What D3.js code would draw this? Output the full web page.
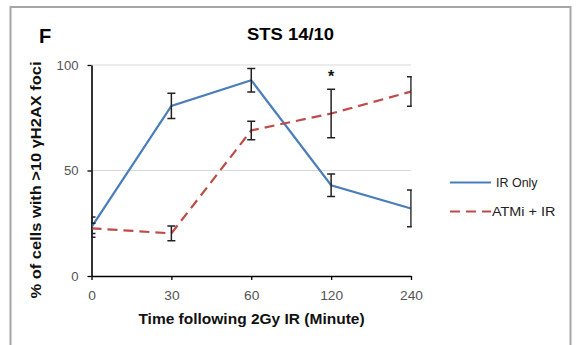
<!DOCTYPE html>
<html>
<head>
<meta charset="utf-8">
<script src="https://cdn.jsdelivr.net/npm/d3@7"></script>
<style>
  html, body { margin: 0; padding: 0; background: #fff; }
  svg { display: block; font-family: "Liberation Sans", Arial, sans-serif; }
</style>
</head>
<body>
<svg id="chart" width="577" height="345"></svg>
<script>
// Time points (minutes after 2 Gy IR), shown as evenly spaced categories
const timePoints = ["0", "30", "60", "120", "240"];

// % of cells with >10 γH2AX foci
const irOnly      = [23.2, 80.6, 92.8, 43.0, 32.0];
const irOnlyErr   = [4.8, 6.0, 5.6, 5.3, 8.7];
const atmiIr      = [22.6, 20.2, 69.0, 77.0, 87.4];
const atmiIrErr   = [2.4, 3.5, 4.4, 11.5, 7.0];

const yTicks = [0, 50, 100];
const seriesNames = ["IR Only", "ATMi + IR"];
const significantAt = ["120"];

const svg = d3.select("#chart");
const W = 577, H = 345;

const x = d3.scalePoint().domain(timePoints).range([91.5, 411]).padding(0);
const y = d3.scaleLinear().domain([0, 100]).range([276, 65]);

const blue = "#4a7ebb";
const red = "#be4b48";

// Stretch text horizontally (along its own baseline) by factor k
function widen(sel, k) {
  sel.each(function () {
    const len = this.getComputedTextLength();
    d3.select(this).attr("textLength", len * k).attr("lengthAdjust", "spacingAndGlyphs");
  });
}

// Panel frame
svg.append("rect")
  .attr("x", 10.5).attr("y", 7).attr("width", 560).attr("height", 350)
  .attr("fill", "none").attr("stroke", "#a6a6a6").attr("stroke-width", 2);

// Panel letter and title
svg.append("text").attr("x", 39).attr("y", 43)
  .attr("font-size", 20).attr("font-weight", "bold").attr("fill", "#000").text("F");
svg.append("text").attr("x", 290.5).attr("y", 39.5).attr("text-anchor", "middle")
  .attr("font-size", 16).attr("font-weight", "bold").attr("fill", "#000")
  .text("STS 14/10").call(widen, 1.15);

// Gridlines
svg.append("g").selectAll("line").data(yTicks.filter(d => d > 0)).join("line")
  .attr("x1", x.range()[0]).attr("x2", x.range()[1])
  .attr("y1", d => y(d)).attr("y2", d => y(d))
  .attr("stroke", "#d9d9d9").attr("stroke-width", 1);

// Axes
const yAxis = svg.append("g").attr("transform", `translate(${x.range()[0]},0)`)
  .call(d3.axisLeft(y).tickValues(yTicks).tickSize(4).tickSizeOuter(0).tickPadding(9));
const xAxis = svg.append("g").attr("transform", `translate(0,${y(0)})`)
  .call(d3.axisBottom(x).tickSize(4).tickSizeOuter(0).tickPadding(11));

[yAxis, xAxis].forEach(ax => {
  ax.select(".domain").attr("stroke", "#000").attr("stroke-width", 1.6);
  ax.selectAll(".tick line").attr("stroke", "#000").attr("stroke-width", 1.3);
  ax.selectAll(".tick text").attr("fill", "#555").attr("font-size", 12.5)
    .attr("font-family", "Liberation Sans, Arial, sans-serif");
});
xAxis.selectAll(".tick text").call(widen, 1.1);
yAxis.selectAll(".tick text").call(widen, 1.05);

// Axis titles
svg.append("text").attr("x", 251.5).attr("y", 324).attr("text-anchor", "middle")
  .attr("font-size", 15.5).attr("font-weight", "bold").attr("fill", "#111")
  .text("Time following 2Gy IR (Minute)").call(widen, 1.0);
svg.append("text").attr("transform", "translate(40.5,180) rotate(-90)")
  .attr("text-anchor", "middle")
  .attr("font-size", 15.5).attr("font-weight", "bold").attr("fill", "#111")
  .text("% of cells with >10 γH2AX foci").call(widen, 1.06);

// Clip so error bars at the ends stay within the plot
svg.append("clipPath").attr("id", "plotClip").append("rect")
  .attr("x", x.range()[0]).attr("y", 0)
  .attr("width", x.range()[1] - x.range()[0] + 0.8).attr("height", H);

const series = [
  { name: seriesNames[0], values: irOnly, err: irOnlyErr, color: blue, dash: null },
  { name: seriesNames[1], values: atmiIr, err: atmiIrErr, color: red, dash: "10,6" }
];

const line = d3.line().x(d => x(d.t)).y(d => y(d.v));
const plot = svg.append("g").attr("clip-path", "url(#plotClip)");

series.forEach(s => {
  const pts = timePoints.map((t, i) => ({ t, v: s.values[i], e: s.err[i] }));
  plot.append("path").datum(pts).attr("d", line)
    .attr("fill", "none").attr("stroke", s.color).attr("stroke-width", 2.2)
    .attr("stroke-dasharray", s.dash);
});

// Error bars
series.forEach(s => {
  const pts = timePoints.map((t, i) => ({ t, v: s.values[i], e: s.err[i] }));
  const g = plot.append("g").selectAll("g").data(pts).join("g")
    .attr("stroke", "#222").attr("stroke-width", 1.5);
  g.append("line").attr("x1", d => x(d.t)).attr("x2", d => x(d.t))
    .attr("y1", d => y(d.v + d.e)).attr("y2", d => y(d.v - d.e));
  [1, -1].forEach(sg => {
    g.append("line").attr("x1", d => x(d.t) - 4).attr("x2", d => x(d.t) + 4)
      .attr("y1", d => y(d.v + sg * d.e)).attr("y2", d => y(d.v + sg * d.e));
  });
});

// Significance marker
svg.append("g").selectAll("text").data(significantAt).join("text")
  .attr("x", d => x(d)).attr("y", 82).attr("text-anchor", "middle")
  .attr("font-size", 16).attr("font-weight", "bold").attr("fill", "#111").text("*");

// Legend
const legend = svg.append("g");
series.forEach((s, i) => {
  const ly = 182.5 + i * 29;
  legend.append("line").attr("x1", 450).attr("x2", 491).attr("y1", ly).attr("y2", ly)
    .attr("stroke", s.color).attr("stroke-width", 2.2).attr("stroke-dasharray", s.dash);
  legend.append("text").attr("x", i === 0 ? 496 : 492).attr("y", ly + 4.5)
    .attr("font-size", 12).attr("fill", "#222").text(s.name).call(widen, i === 0 ? 1.04 : 1.2);
});
</script>
</body>
</html>
